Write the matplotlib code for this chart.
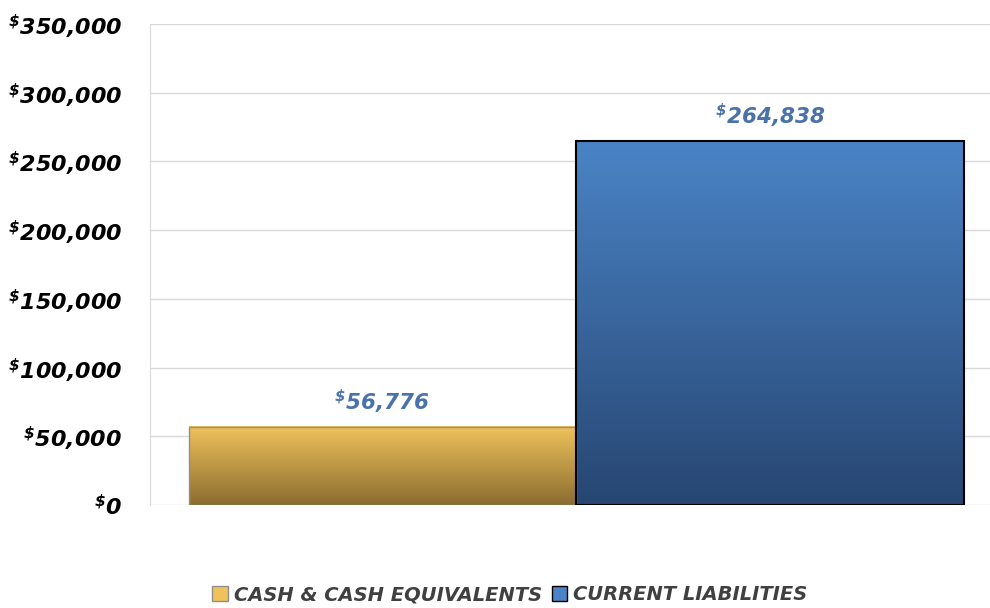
import numpy as np
import matplotlib
matplotlib.rcParams['mathtext.fontset'] = 'custom'
matplotlib.rcParams['mathtext.rm'] = 'DejaVu Sans:bold:italic'
matplotlib.rcParams['mathtext.it'] = 'DejaVu Sans:bold:italic'
matplotlib.rcParams['mathtext.bf'] = 'DejaVu Sans:bold:italic'
matplotlib.use('Agg')
import matplotlib.pyplot as plt
from matplotlib.colors import LinearSegmentedColormap
from matplotlib.patches import Patch


categories = ['Cash & Cash Equivalents', 'Current Liabilities']
values = [56776, 264838]
value_labels = ['56,776', '264,838']
y_ticks = [0, 50000, 100000, 150000, 200000, 250000, 300000, 350000]

TOP_COLORS = ['#EFC25C', '#4A84C6']
BOTTOM_COLORS = ['#8B6D30', '#274672']
EDGE_COLORS = ['#8f8f8f', '#000000']
LABEL_BLUE = '#4A72AA'


def tick_label(v):
    return r'$^{\$}$' + '{:,}'.format(v)


fig = plt.figure(figsize=(9.9, 6.08), dpi=100)
ax = fig.add_axes([0.1515, 0.1694, 0.848, 0.7911])

x = np.arange(len(values)) + 0.5
for i, (xi, v) in enumerate(zip(x, values)):
    cmap = LinearSegmentedColormap.from_list('g%d' % i, [BOTTOM_COLORS[i], TOP_COLORS[i]])
    grad = np.linspace(0, 1, 256).reshape(-1, 1)
    ax.imshow(grad, cmap=cmap, origin='lower', aspect='auto',
              extent=[xi - 0.5, xi + 0.5, 0, v], zorder=2)
    ax.bar(xi, v, width=1.0, facecolor='none', edgecolor=EDGE_COLORS[i],
           linewidth=1.5 if i == 1 else 1.0, zorder=3 + i)
    ax.text(xi, v + 18000, r'$^{\$}$' + value_labels[i], ha='center', va='center',
            fontsize=15.5, fontweight='bold', fontstyle='italic', color=LABEL_BLUE)

ax.set_xlim(-0.1, 2.067)
ax.set_ylim(0, 350000)
ax.set_yticks(y_ticks)
ax.set_yticklabels([tick_label(v) for v in y_ticks], fontsize=16,
                   fontweight='bold', fontstyle='italic')
ax.tick_params(axis='y', length=0, pad=20)
ax.set_xticks([])
ax.grid(axis='y', color='#d9d9d9', linewidth=1, zorder=0)
ax.set_axisbelow(True)
for s in ['top', 'right', 'bottom']:
    ax.spines[s].set_visible(False)
ax.spines['left'].set_color('#d9d9d9')

handles = [Patch(facecolor=TOP_COLORS[0], edgecolor=EDGE_COLORS[0], label=categories[0].upper()),
           Patch(facecolor=TOP_COLORS[1], edgecolor=EDGE_COLORS[1], label=categories[1].upper())]
leg = fig.legend(handles=handles, loc='center', bbox_to_anchor=(0.515, 0.022), ncol=2,
                 frameon=False, handlelength=0.8, handleheight=0.8, handletextpad=0.3,
                 columnspacing=0.5,
                 prop={'size': 14, 'weight': 'bold', 'style': 'italic'})
for t in leg.get_texts():
    t.set_color('#404040')

fig.savefig('out.png', dpi=100)
